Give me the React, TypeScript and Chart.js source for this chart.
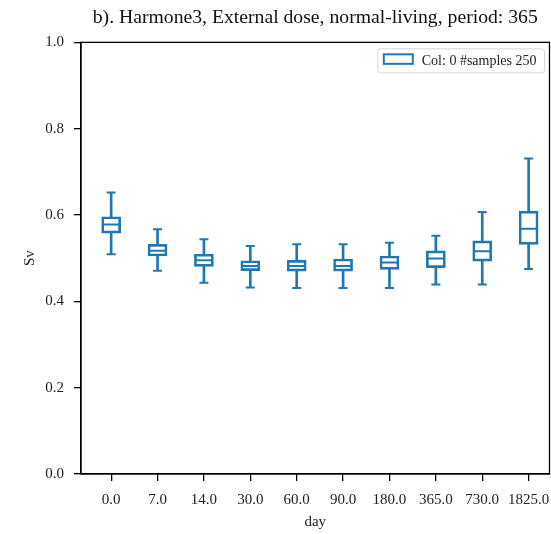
import React, { useEffect, useRef } from 'react';
import { Chart, registerables } from 'chart.js';

Chart.register(...registerables);

// ---- data ----
const categories = ['0.0', '7.0', '14.0', '30.0', '60.0', '90.0', '180.0', '365.0', '730.0', '1825.0'];
const whiskerLow = [0.509, 0.471, 0.443, 0.432, 0.431, 0.431, 0.431, 0.439, 0.439, 0.475];
const q1 = [0.558, 0.505, 0.481, 0.471, 0.470, 0.470, 0.474, 0.478, 0.493, 0.532];
const median = [0.578, 0.517, 0.495, 0.482, 0.482, 0.482, 0.490, 0.499, 0.516, 0.568];
const q3 = [0.596, 0.532, 0.509, 0.494, 0.495, 0.498, 0.505, 0.517, 0.540, 0.609];
const whiskerHigh = [0.652, 0.567, 0.544, 0.528, 0.532, 0.532, 0.536, 0.552, 0.607, 0.731];
const yTicks = [0, 0.2, 0.4, 0.6, 0.8, 1.0];

const titleText = 'b). Harmone3, External dose, normal-living, period: 365';
const legendLabel = 'Col: 0 #samples 250';
const xLabel = 'day';
const yLabel = 'Sv';

const BLUE = '#1f77b4';
const FONT = "'Liberation Serif', 'Times New Roman', serif";
const TEXT = '#222';

export default function App() {
  const ref = useRef<HTMLCanvasElement>(null);

  useEffect(() => {
    const canvas = ref.current;
    if (!canvas) return;

    const framePlugin = {
      id: 'frame',
      afterDraw(chart: any) {
        const { ctx, chartArea: a } = chart;
        ctx.save();
        ctx.strokeStyle = '#000';
        ctx.lineWidth = 1.3;
        ctx.strokeRect(a.left, a.top, a.right - a.left, a.bottom - a.top);
        ctx.restore();
      },
    };

    const boxLegendPlugin = {
      id: 'boxLegend',
      afterDraw(chart: any) {
        const { ctx, chartArea: a } = chart;
        const label = chart.data.datasets[0].label as string;
        ctx.save();
        ctx.font = `14px ${FONT}`;
        const tw = ctx.measureText(label).width;
        const h = 24;
        const w = 6 + 29 + 9 + tw + 8;
        const right = a.right - 5;
        const left = right - w;
        const top = a.top + 6.5;
        ctx.beginPath();
        const r = 3;
        ctx.moveTo(left + r, top);
        ctx.lineTo(right - r, top);
        ctx.quadraticCurveTo(right, top, right, top + r);
        ctx.lineTo(right, top + h - r);
        ctx.quadraticCurveTo(right, top + h, right - r, top + h);
        ctx.lineTo(left + r, top + h);
        ctx.quadraticCurveTo(left, top + h, left, top + h - r);
        ctx.lineTo(left, top + r);
        ctx.quadraticCurveTo(left, top, left + r, top);
        ctx.closePath();
        ctx.fillStyle = 'rgba(255,255,255,0.85)';
        ctx.fill();
        ctx.strokeStyle = '#d6d6d6';
        ctx.lineWidth = 1;
        ctx.stroke();
        ctx.strokeStyle = BLUE;
        ctx.lineWidth = 2;
        ctx.strokeRect(left + 6, top + 5.5, 29, 9.5);
        ctx.fillStyle = TEXT;
        ctx.textBaseline = 'middle';
        ctx.textAlign = 'left';
        ctx.fillText(label, left + 6 + 29 + 9, top + h / 2);
        ctx.restore();
      },
    };

    const font = { family: FONT, size: 15, weight: 'normal' as const };

    const chart = new Chart(canvas, {
      type: 'bar',
      data: {
        datasets: [
          {
            type: 'bar',
            label: legendLabel,
            data: categories.map((_, i) => ({ x: i + 1, y: [q1[i], q3[i]] })) as any,
            backgroundColor: 'rgba(255,255,255,0)',
            borderColor: BLUE,
            borderWidth: 2,
            borderSkipped: false,
            barThickness: 19,
            grouped: false,
          } as any,
          {
            type: 'bar',
            label: 'lower whisker',
            data: categories.map((_, i) => ({ x: i + 1, y: [whiskerLow[i], q1[i]] })) as any,
            backgroundColor: BLUE,
            borderWidth: 0,
            barThickness: 2,
            grouped: false,
          } as any,
          {
            type: 'bar',
            label: 'upper whisker',
            data: categories.map((_, i) => ({ x: i + 1, y: [q3[i], whiskerHigh[i]] })) as any,
            backgroundColor: BLUE,
            borderWidth: 0,
            barThickness: 2,
            grouped: false,
          } as any,
          {
            type: 'scatter',
            label: 'caps',
            data: [
              ...categories.map((_, i) => ({ x: i + 1, y: whiskerLow[i] })),
              ...categories.map((_, i) => ({ x: i + 1, y: whiskerHigh[i] })),
            ],
            pointStyle: 'line',
            pointRadius: 4.5,
            borderColor: BLUE,
            borderWidth: 2,
            backgroundColor: BLUE,
          } as any,
          {
            type: 'scatter',
            label: 'median',
            data: categories.map((_, i) => ({ x: i + 1, y: median[i] })),
            pointStyle: 'line',
            pointRadius: 8.5,
            borderColor: BLUE,
            borderWidth: 2,
            backgroundColor: BLUE,
          } as any,
        ],
      },
      options: {
        responsive: false,
        animation: false,
        devicePixelRatio: 1,
        events: [],
        layout: { padding: { left: 0, right: 2, top: 0, bottom: 0 } },
        plugins: {
          legend: { display: false },
          tooltip: { enabled: false },
          title: {
            display: true,
            text: titleText,
            fullSize: false,
            color: '#111',
            font: { family: FONT, size: 19.7, weight: 'normal' },
            padding: { top: 5.6, bottom: 13.1 },
          } as any,
        },
        scales: {
          x: {
            type: 'linear',
            offset: false,
            min: 0.35,
            max: 10.45,
            afterBuildTicks: (s: any) => {
              s.ticks = categories.map((_, i) => ({ value: i + 1 }));
            },
            afterFit: (s: any) => {
              s.height = 60;
            },
            ticks: {
              autoSkip: false,
              maxRotation: 0,
              color: TEXT,
              font,
              padding: 10,
              callback: (v: any) => categories[Math.round(Number(v)) - 1] ?? '',
            },
            grid: {
              display: true,
              offset: false,
              drawOnChartArea: false,
              drawTicks: true,
              tickLength: 7,
              color: '#000',
              lineWidth: 1.3,
            },
            border: { display: true, color: '#000', width: 1.3 },
            title: { display: true, text: xLabel, color: TEXT, font, padding: 3 },
          },
          y: {
            type: 'linear',
            min: 0,
            max: 1,
            afterBuildTicks: (s: any) => {
              s.ticks = yTicks.map((v) => ({ value: v }));
            },
            afterFit: (s: any) => {
              s.width = 81;
            },
            ticks: {
              color: TEXT,
              font,
              padding: 10,
              callback: (v: any) => Number(v).toFixed(1),
            },
            grid: {
              display: true,
              drawOnChartArea: false,
              drawTicks: true,
              tickLength: 7,
              color: '#000',
              lineWidth: 1.3,
            },
            border: { display: true, color: '#000', width: 1.3 },
            title: { display: true, text: yLabel, color: TEXT, font, padding: 21 },
          },
        },
      } as any,
      plugins: [framePlugin, boxLegendPlugin],
    });

    return () => {
      chart.destroy();
    };
  }, []);

  return (
    <div
      style={{
        position: 'absolute',
        left: 0,
        top: 0,
        width: 551,
        height: 534,
        overflow: 'hidden',
        background: '#fff',
      }}
    >
      <canvas ref={ref} width={560} height={534} style={{ display: 'block' }} />
    </div>
  );
}
